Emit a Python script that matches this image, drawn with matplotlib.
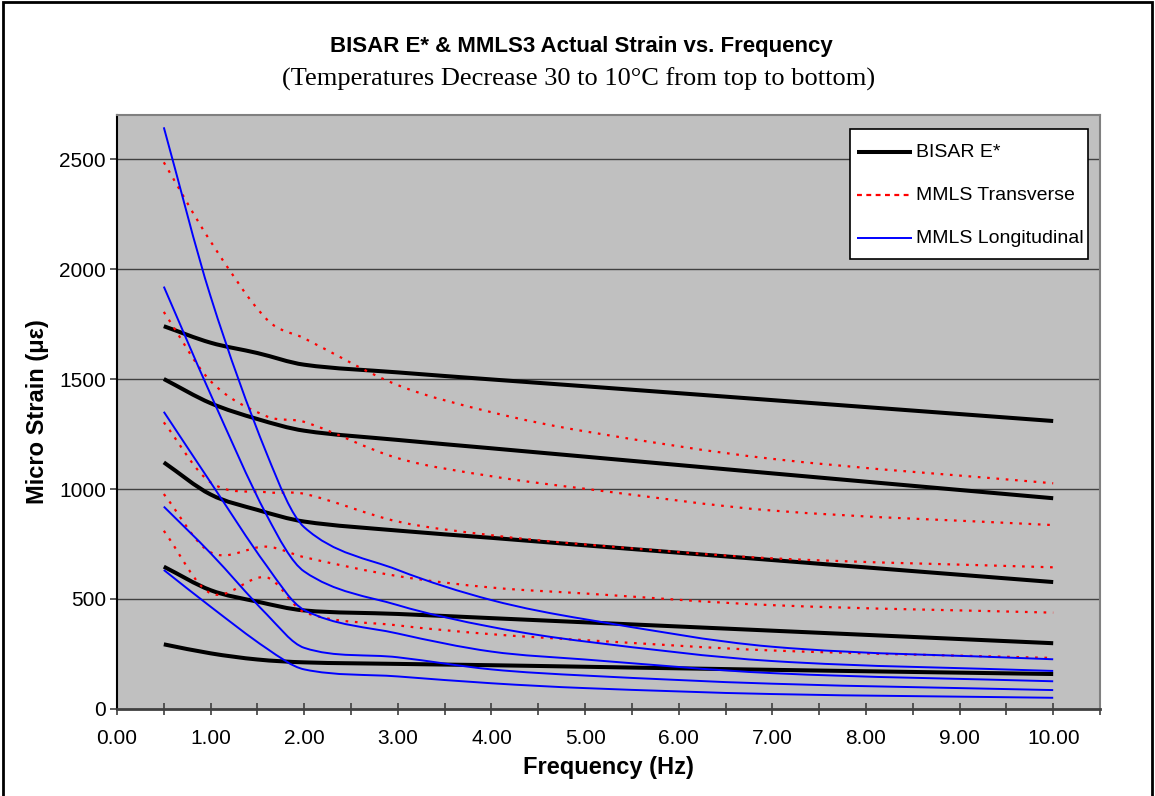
import numpy as np
import matplotlib
matplotlib.use("Agg")
import matplotlib.pyplot as plt
from matplotlib.path import Path
from matplotlib.patches import PathPatch, Rectangle
from matplotlib.lines import Line2D
from matplotlib.ticker import MultipleLocator, FormatStrFormatter

# ---------------- data ----------------
temps = [30, 25, 20, 15, 10]
freq_bisar = [0.5, 1.0, 1.5, 2.0, 3.0, 4.0, 5.0, 7.0, 10.0]
freq_mmls = [0.5, 1.0, 1.6, 2.0, 3.0, 4.0, 5.0, 7.0, 10.0]

bisar_30 = [1740, 1665, 1618, 1565, 1530, 1498, 1467, 1404, 1309]
bisar_25 = [1500, 1390, 1318, 1265, 1223, 1185, 1147, 1071, 958]
bisar_20 = [1121, 975, 905, 852, 811, 778, 744, 677, 577]
bisar_15 = [647, 540, 488, 448, 432, 413, 394, 356, 299]
bisar_10 = [294, 253, 225, 212, 205, 199, 192, 178, 159]

trans_30 = [2485, 2125, 1771, 1685, 1472, 1349, 1262, 1137, 1026]
trans_25 = [1805, 1490, 1330, 1305, 1140, 1058, 1001, 902, 836]
trans_20 = [1303, 1030, 985, 978, 852, 790, 748, 685, 644]
trans_15 = [977, 712, 738, 690, 604, 552, 525, 472, 438]
trans_10 = [810, 526, 598, 440, 380, 340, 313, 266, 232]

long_30 = [2644, 1875, 1160, 826, 632, 495, 408, 283, 226]
long_25 = [1920, 1430, 880, 625, 472, 373, 307, 218, 173]
long_20 = [1351, 1030, 650, 450, 343, 261, 225, 163, 126]
long_15 = [920, 708, 430, 278, 235, 180, 152, 115, 86]
long_10 = [632, 465, 275, 180, 148, 117, 95, 68, 51]

bisar_series = [bisar_30, bisar_25, bisar_20, bisar_15, bisar_10]
trans_series = [trans_30, trans_25, trans_20, trans_15, trans_10]
long_series = [long_30, long_25, long_20, long_15, long_10]

y_ticks = [0, 500, 1000, 1500, 2000, 2500]
labels = ["BISAR E*", "MMLS Transverse", "MMLS Longitudinal"]

# ---------------- helpers ----------------
def smooth_path(x, y):
    """Smoothed line (like Excel's 'smoothed line') as cubic Bezier path."""
    x = np.asarray(x, float)
    y = np.asarray(y, float)
    n = len(x)
    m = np.empty(n)
    m[0] = (y[1] - y[0]) / (x[1] - x[0])
    m[-1] = (y[-1] - y[-2]) / (x[-1] - x[-2])
    m[1:-1] = (y[2:] - y[:-2]) / (x[2:] - x[:-2])
    verts = [(x[0], y[0])]
    codes = [Path.MOVETO]
    for i in range(n - 1):
        h = x[i + 1] - x[i]
        verts += [(x[i] + h / 3, y[i] + m[i] * h / 3),
                  (x[i + 1] - h / 3, y[i + 1] - m[i + 1] * h / 3),
                  (x[i + 1], y[i + 1])]
        codes += [Path.CURVE4] * 3
    return Path(verts, codes)

FONT = ["Liberation Sans", "DejaVu Sans"]
plt.rcParams["font.family"] = FONT

W, H = 1155, 796
AX_L, AX_R, AX_T, AX_B = 117, 1100, 115, 709

fig = plt.figure(figsize=(W / 100, H / 100), dpi=100)
fig.patch.set_facecolor("white")
ax = fig.add_axes([AX_L / W, (H - AX_B) / H, (AX_R - AX_L) / W, (AX_B - AX_T) / H])
ax.set_facecolor("#C0C0C0")

ax.set_xlim(0, 10.5)
ax.set_ylim(0, 2700)

# gridlines
for yv in y_ticks[1:]:
    ax.axhline(yv, color="#404040", lw=1.0, zorder=1)

black_style = dict(color="black", lw=2.9, capstyle="butt", joinstyle="round")
red_style = dict(color="#FF0000", lw=1.6, linestyle=(0, (1.2, 3.0)), capstyle="butt")
blue_style = dict(color="#0000FF", lw=1.4, capstyle="butt", joinstyle="round")

for ys in bisar_series:
    ax.add_patch(PathPatch(smooth_path(freq_bisar, ys), fill=False, zorder=3, **black_style))
for ys in trans_series:
    ax.add_patch(PathPatch(smooth_path(freq_mmls, ys), fill=False, zorder=4, **red_style))
for ys in long_series:
    ax.add_patch(PathPatch(smooth_path(freq_mmls, ys), fill=False, zorder=5, **blue_style))

# axes / spines
for s in ["top", "right"]:
    ax.spines[s].set_color("#808080")
    ax.spines[s].set_linewidth(1.5)
ax.spines["left"].set_color("black")
ax.spines["left"].set_linewidth(1.5)
ax.spines["bottom"].set_color("#404040")
ax.spines["bottom"].set_linewidth(2.0)

ax.xaxis.set_major_locator(MultipleLocator(1.0))
ax.xaxis.set_minor_locator(MultipleLocator(0.5))
ax.xaxis.set_major_formatter(FormatStrFormatter("%.2f"))
ax.set_yticks(y_ticks)
ax.tick_params(axis="x", which="both", direction="inout", length=9, width=1.2,
               color="#404040", labelsize=15, pad=10)
ax.tick_params(axis="y", which="major", direction="out", length=5, width=1.2,
               color="#404040", labelsize=15, pad=3)

ax.set_xlabel("Frequency (Hz)", fontsize=17, fontweight="bold", labelpad=6)
ax.set_ylabel("Micro Strain (\u03bc\u03b5)", fontsize=17, fontweight="bold", labelpad=7)

fig.text(0.503, 0.942, "BISAR E* & MMLS3 Actual Strain vs. Frequency",
         ha="center", va="center", fontsize=16, fontweight="bold")
fig.text(0.501, 0.900, "(Temperatures Decrease 30 to 10\u00b0C from top to bottom)",
         ha="center", va="center", fontsize=19,
         family=["Liberation Serif", "DejaVu Serif"])

# ---------------- legend (drawn as a boxed key in axes coordinates) ----------------
def ax_x(px):
    return (px - AX_L) / (AX_R - AX_L)

def ax_y(py):
    return (AX_B - py) / (AX_B - AX_T)

leg_box = Rectangle((ax_x(850), ax_y(259)), ax_x(1088) - ax_x(850), ax_y(129) - ax_y(259),
                    transform=ax.transAxes, facecolor="white", edgecolor="black",
                    lw=1.2, zorder=10)
ax.add_patch(leg_box)
leg_styles = [dict(color="black", lw=2.9, solid_capstyle="butt"),
              dict(color="#FF0000", lw=1.6, linestyle=(0, (2.2, 2.0)), dash_capstyle="butt"),
              dict(color="#0000FF", lw=1.4, solid_capstyle="butt")]
for row, (lab, st) in enumerate(zip(labels, leg_styles)):
    py = 152 + 43 * row
    ax.add_line(Line2D([ax_x(857), ax_x(912)], [ax_y(py), ax_y(py)],
                       transform=ax.transAxes, zorder=11, **st))
    ax.text(ax_x(916), ax_y(py), lab, transform=ax.transAxes, ha="left",
            va="center", fontsize=14, zorder=12)

# outer figure border
fig.add_artist(Rectangle((3 / W, -0.05), 1149 / W, 1.05 - 2 / H,
                         transform=fig.transFigure, fill=False,
                         edgecolor="black", lw=2.0, clip_on=False))

fig.savefig("out.png", dpi=100, facecolor="white")
